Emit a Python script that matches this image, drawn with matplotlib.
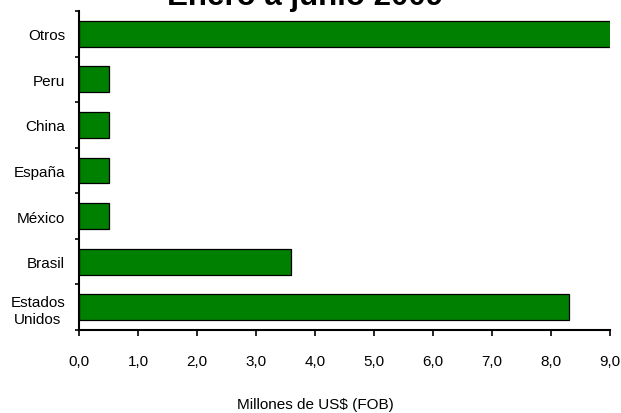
import matplotlib
matplotlib.use("Agg")
import matplotlib.pyplot as plt
import numpy as np
from matplotlib.ticker import FuncFormatter

# datos (millones de US$ FOB), de abajo hacia arriba
paises = ["Estados\nUnidos", "Brasil", "México", "España", "China", "Peru", "Otros"]
valores = [8.3, 3.6, 0.5, 0.5, 0.5, 0.5, 9.2]
x_ticks = [0, 1, 2, 3, 4, 5, 6, 7, 8, 9]

plt.rcParams['font.family'] = ['Liberation Sans', 'DejaVu Sans']

fig = plt.figure(figsize=(6.21, 4.14), dpi=100)
ax = fig.add_axes([79 / 621, 1 - 331 / 414, (610 - 79) / 621, (331 - 12) / 414])

y = np.arange(len(paises))
ax.barh(y, valores, height=0.57, color='#008000', edgecolor='black', linewidth=0.9)

ax.set_xlim(0, 9)
ax.set_ylim(-0.5, len(paises) - 0.5)

ax.set_xticks(x_ticks)
ax.xaxis.set_major_formatter(FuncFormatter(lambda v, p: f"{v:.1f}".replace(".", ",")))
ax.set_yticks(y)
ax.set_yticklabels(paises, multialignment='center', linespacing=1.3)
ax.set_yticks(np.arange(-0.5, len(paises), 1.0), minor=True)

ax.tick_params(axis='x', direction='out', length=4, width=1.2, pad=13, labelsize=11)
ax.tick_params(axis='y', which='major', length=0, pad=10, labelsize=11)
ax.tick_params(axis='y', which='minor', direction='out', length=3, width=1.2)

for side in ['top', 'right']:
    ax.spines[side].set_visible(False)
for side in ['left', 'bottom']:
    ax.spines[side].set_linewidth(1.5)

fig.text(305 / 621, 1 - 5 / 414, "Enero a junio 2009", ha='center', va='baseline',
         fontsize=22.5, fontweight='bold')
fig.text(315 / 621, 5 / 414, "Millones de US$ (FOB)", ha='center', va='baseline',
         fontsize=11)

fig.savefig("out.png", dpi=100)
